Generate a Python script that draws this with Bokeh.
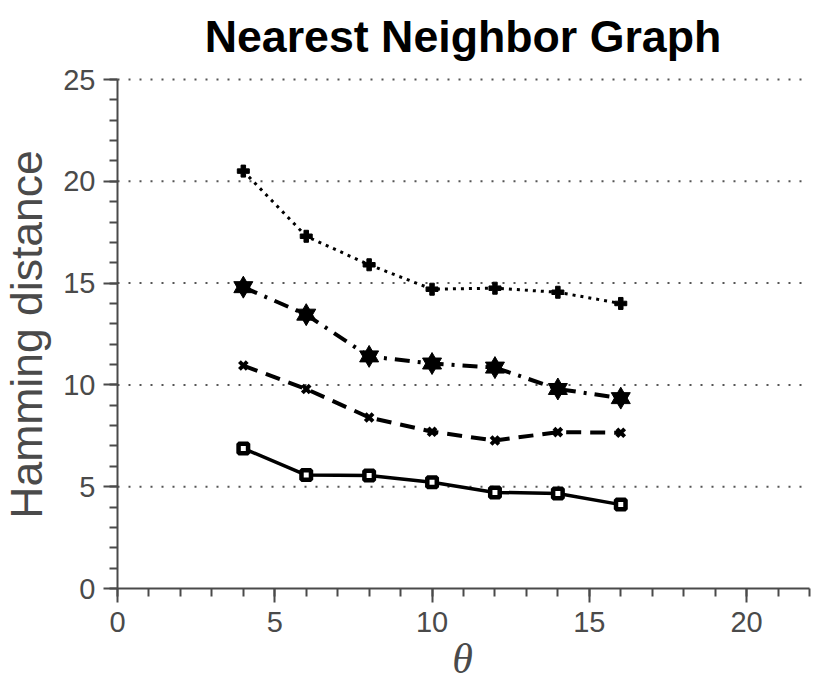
import math
from bokeh.plotting import figure
from bokeh.models import Range1d, SingleIntervalTicker, ColumnDataSource, Label
from bokeh.embed import file_html
from bokeh.resources import INLINE

theta = [4, 6, 8, 10, 12, 14, 16]
plus_series = [20.5, 17.3, 15.9, 14.7, 14.75, 14.55, 14.0]
star_series = [14.8, 13.45, 11.4, 11.05, 10.85, 9.8, 9.35]
x_series = [10.95, 9.8, 8.4, 7.7, 7.27, 7.68, 7.65]
square_series = [6.88, 5.57, 5.55, 5.22, 4.72, 4.67, 4.12]

x_axis_bounds = (0, 22)
y_axis_bounds = (0, 25)
y_grid_values = [5, 10, 15, 20, 25]

title_text = "Nearest Neighbor Graph"
x_label = "θ"
y_label = "Hamming distance"

GRAY = "#4a4a4a"

# canvas and where the axes sit on it (pixels)
W, H = 830, 679
AX_LEFT, AX_RIGHT, AX_TOP, AX_BOTTOM = 117, 809, 79, 588
sx = (AX_RIGHT - AX_LEFT) / (x_axis_bounds[1] - x_axis_bounds[0])
sy = (AX_BOTTOM - AX_TOP) / (y_axis_bounds[1] - y_axis_bounds[0])
x_start = x_axis_bounds[0] - AX_LEFT / sx
x_end = x_axis_bounds[1] + (W - AX_RIGHT) / sx
y_start = y_axis_bounds[0] - (H - AX_BOTTOM) / sy
y_end = y_axis_bounds[1] + AX_TOP / sy

def px_x(px):
    return x_axis_bounds[0] + (px - AX_LEFT) / sx

def px_y(py):
    return y_axis_bounds[0] + (AX_BOTTOM - py) / sy

p = figure(width=W, height=H, output_backend="svg", toolbar_location=None,
           x_range=Range1d(x_start, x_end), y_range=Range1d(y_start, y_end),
           min_border=0, min_border_left=0, min_border_right=0, min_border_top=0, min_border_bottom=0)
p.outline_line_color = None
p.background_fill_color = "white"
p.border_fill_color = "white"

p.xaxis.fixed_location = 0
p.yaxis.fixed_location = 0
p.xaxis.bounds = x_axis_bounds
p.yaxis.bounds = y_axis_bounds

for ax in (p.xaxis[0], p.yaxis[0]):
    ax.ticker = SingleIntervalTicker(interval=5, num_minor_ticks=5)
    ax.axis_line_color = GRAY
    ax.axis_line_width = 2
    ax.major_tick_line_color = GRAY
    ax.major_tick_line_width = 2
    ax.minor_tick_line_color = GRAY
    ax.minor_tick_line_width = 2
    ax.major_tick_in = 0
    ax.major_tick_out = 14
    ax.minor_tick_in = 0
    ax.minor_tick_out = 8
    ax.major_label_text_font = "Liberation Sans"
    ax.major_label_text_font_size = "29px"
    ax.major_label_text_color = GRAY
p.yaxis.major_label_standoff = 8
p.xaxis.major_label_standoff = 9

p.xgrid.visible = False
p.ygrid.visible = False

# dotted horizontal grid lines, limited to the axis span
p.segment(x0=[x_axis_bounds[0]] * len(y_grid_values), x1=[x_axis_bounds[1]] * len(y_grid_values),
          y0=y_grid_values, y1=y_grid_values,
          line_color="#555555", line_width=2, line_dash="2 9")

# title and axis labels (positions in canvas pixels)
p.add_layout(Label(x=px_x(462.5), y=px_y(36), text=title_text, text_align="center",
                   text_baseline="alphabetic", text_font="Liberation Sans", text_font_size="44.7px",
                   text_font_style="bold", text_color="black"))
p.add_layout(Label(x=px_x(26), y=px_y(334), text=y_label, angle=math.pi / 2, text_align="center",
                   text_baseline="alphabetic", text_font="Liberation Sans", text_font_size="44.5px",
                   text_color=GRAY))
p.add_layout(Label(x=px_x(462), y=px_y(658), text=x_label, text_align="center",
                   text_baseline="alphabetic", text_font="Liberation Serif", text_font_size="42px",
                   text_font_style="italic", text_color=GRAY))

src = ColumnDataSource(dict(t=theta, a=plus_series, b=star_series, c=x_series, d=square_series))

# dotted series with plus markers
p.line("t", "a", source=src, line_color="black", line_width=3, line_dash="3 5")
p.scatter("t", "a", source=src, marker="plus", size=12, fill_color="black", line_color="black", line_width=1)

# dash-dot series with six-point stars
p.line("t", "b", source=src, line_color="black", line_width=4, line_dash="15 8 3 8")
p.scatter("t", "b", source=src, marker="triangle", size=19, fill_color="black", line_color="black", line_width=1)
p.scatter("t", "b", source=src, marker="inverted_triangle", size=19, fill_color="black", line_color="black", line_width=1)

# dashed series with x markers
p.line("t", "c", source=src, line_color="black", line_width=4, line_dash="15 9")
p.scatter("t", "c", source=src, marker="x", size=11, line_color="black", line_width=4)

# solid series with squares
p.line("t", "d", source=src, line_color="black", line_width=3.5)
p.scatter("t", "d", source=src, marker="square", size=9.5, fill_color="white", line_color="black", line_width=4.5)

open("out.html", "w").write(file_html(p, INLINE))
